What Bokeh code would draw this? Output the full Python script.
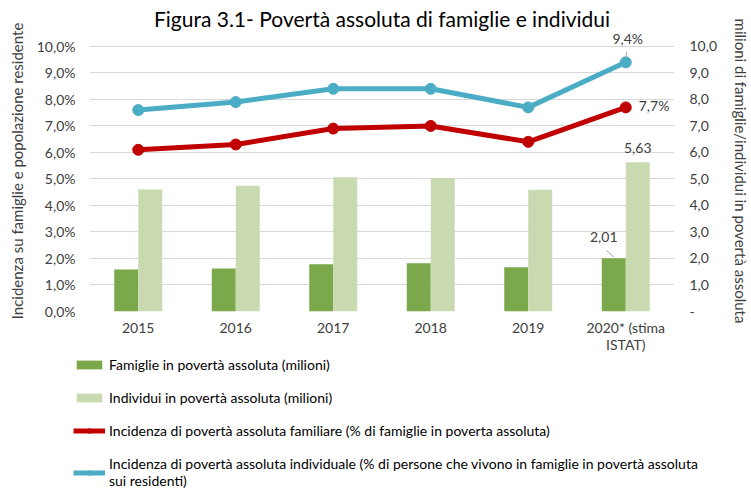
from bokeh.plotting import figure
from bokeh.layouts import column
from bokeh.models import Range1d, FactorRange, LinearAxis, FixedTicker, Legend, LegendItem, Label, ColumnDataSource
from bokeh.transform import dodge
from bokeh.embed import file_html
from bokeh.resources import INLINE

years = ["2015", "2016", "2017", "2018", "2019", "2020* (stima\nISTAT)"]
famiglie_mil = [1.58, 1.62, 1.78, 1.82, 1.67, 2.01]
individui_mil = [4.60, 4.74, 5.06, 5.04, 4.59, 5.63]
inc_famiglie = [6.1, 6.3, 6.9, 7.0, 6.4, 7.7]
inc_individui = [7.6, 7.9, 8.4, 8.4, 7.7, 9.4]
pct_ticks = [0, 1, 2, 3, 4, 5, 6, 7, 8, 9, 10]
pct_labels = ["0,0%", "1,0%", "2,0%", "3,0%", "4,0%", "5,0%", "6,0%", "7,0%", "8,0%", "9,0%", "10,0%"]
mil_labels = ["-", "1,0", "2,0", "3,0", "4,0", "5,0", "6,0", "7,0", "8,0", "9,0", "10,0"]
legend_labels = [
    "Famiglie in povertà assoluta (milioni)",
    "Individui in povertà assoluta (milioni)",
    "Incidenza di povertà assoluta familiare (% di famiglie in poverta assoluta)",
    "Incidenza di povertà assoluta individuale (% di persone che vivono in famiglie in povertà assoluta\nsui residenti)",
]

FONT = "Lato"
TXT = "#404040"
DARK = "#7aa84a"
LIGHT = "#c9dab0"
RED = "#c00000"
BLUE = "#4bacc6"
LEADER = "#a6a6a6"

src = ColumnDataSource(dict(x=years, fam=famiglie_mil, ind=individui_mil,
                            incf=inc_famiglie, inci=inc_individui))

TOP = 10.6
p = figure(x_range=FactorRange(factors=years), y_range=Range1d(0, TOP),
           frame_width=585, frame_height=281,
           output_backend="svg", toolbar_location=None,
           min_border_left=89, min_border_right=69, min_border_top=30, min_border_bottom=38)
p.extra_y_ranges = {"mil": Range1d(0, TOP)}

p.title.text = "Figura 3.1- Povertà assoluta di famiglie e individui"
p.title.align = "center"
p.title.text_font = FONT
p.title.text_font_size = "21px"
p.title.text_font_style = "normal"
p.title.text_color = "#000000"
p.title.standoff = 0
p.outline_line_color = None

p.xgrid.grid_line_color = None
p.ygrid.grid_line_color = "#d9d9d9"
p.ygrid.ticker = FixedTicker(ticks=pct_ticks)

yl = p.yaxis[0]
yl.ticker = FixedTicker(ticks=pct_ticks)
yl.major_label_overrides = {t: l for t, l in zip(pct_ticks, pct_labels)}
yl.axis_label = "Incidenza su famiglie e popolazione residente"

yr = LinearAxis(y_range_name="mil", ticker=FixedTicker(ticks=pct_ticks),
                axis_label="milioni di famiglie/individui in povertà assoluta")
yr.major_label_overrides = {t: l for t, l in zip(pct_ticks, mil_labels)}
try:
    yr.axis_label_orientation = "vertical"
except Exception:
    pass
p.add_layout(yr, "right")

for ax in [yl, yr, p.xaxis[0]]:
    ax.axis_line_color = None
    ax.major_tick_line_color = None
    ax.minor_tick_line_color = None
    ax.major_label_text_font = FONT
    ax.major_label_text_font_size = "14px"
    ax.major_label_text_color = TXT
    ax.axis_label_text_font = FONT
    ax.axis_label_text_font_size = "15px"
    ax.axis_label_text_font_style = "normal"
    ax.axis_label_text_color = TXT
yl.major_label_standoff = 8
yl.axis_label_standoff = 8
yr.major_label_standoff = 9
yr.axis_label_standoff = 12
p.xaxis[0].major_label_standoff = 1
p.xaxis[0].major_label_text_line_height = 1.0

b1 = p.vbar(x=dodge("x", -0.123, range=p.x_range), top="fam", width=0.246, source=src,
            y_range_name="mil", fill_color=DARK, line_color=None)
b2 = p.vbar(x=dodge("x", 0.123, range=p.x_range), top="ind", width=0.246, source=src,
            y_range_name="mil", fill_color=LIGHT, line_color=None)
l1 = p.line("x", "incf", source=src, line_color=RED, line_width=5)
s1 = p.scatter("x", "incf", source=src, size=11, fill_color=RED, line_color=RED)
l2 = p.line("x", "inci", source=src, line_color=BLUE, line_width=5)
s2 = p.scatter("x", "inci", source=src, size=11, fill_color=BLUE, line_color=BLUE)

def fmt(v, d, pct):
    s = f"{v:.{d}f}".replace(".", ",")
    return s + ("%" if pct else "")

# data labels for the last category (synthetic coordinate of its centre)
xl = len(years) - 0.5
lab_style = dict(text_font=FONT, text_font_size="14px", text_color=TXT)
p.add_layout(Label(x=xl, y=inc_individui[-1], text=fmt(inc_individui[-1], 1, True),
                   x_offset=2, y_offset=15, text_align="center", **lab_style))
p.add_layout(Label(x=xl, y=inc_famiglie[-1], text=fmt(inc_famiglie[-1], 1, True),
                   x_offset=13, y_offset=-7, text_align="left", **lab_style))
p.add_layout(Label(x=xl + 0.123, y=individui_mil[-1], y_range_name="mil", text=fmt(individui_mil[-1], 2, False),
                   y_offset=9, text_align="center", **lab_style))
p.add_layout(Label(x=xl - 0.123, y=famiglie_mil[-1], y_range_name="mil", text=fmt(famiglie_mil[-1], 2, False),
                   x_offset=-10, y_offset=16, text_align="center", **lab_style))
# leader lines
p.segment(x0=[xl], y0=[inc_individui[-1] + 0.17], x1=[xl + 0.01], y1=[inc_individui[-1] + 0.4],
          line_color=LEADER, line_width=1)
p.segment(x0=[xl - 0.2], y0=[famiglie_mil[-1] + 0.3], x1=[xl - 0.12], y1=[famiglie_mil[-1] + 0.04],
          y_range_name="mil", line_color=LEADER, line_width=1)

# legend panel: a second figure whose renderers draw the same data outside its view
q = figure(x_range=FactorRange(factors=years), y_range=Range1d(100, 101),
           width=743, height=134, output_backend="svg", toolbar_location=None,
           x_axis_type=None, y_axis_type=None,
           min_border_left=0, min_border_right=0, min_border_top=0, min_border_bottom=0)
q.outline_line_color = None
q.xgrid.grid_line_color = None
q.ygrid.grid_line_color = None
for fig in (p, q):
    try:
        fig.frame_align = False
    except Exception:
        pass
r1 = q.vbar(x="x", top="fam", width=0.246, source=src, fill_color=DARK, line_color=None)
r2 = q.vbar(x="x", top="ind", width=0.246, source=src, fill_color=LIGHT, line_color=None)
r3 = q.line("x", "incf", source=src, line_color=RED, line_width=5)
r4 = q.scatter("x", "incf", source=src, size=11, fill_color=RED, line_color=RED)
r5 = q.line("x", "inci", source=src, line_color=BLUE, line_width=5)
r6 = q.scatter("x", "inci", source=src, size=11, fill_color=BLUE, line_color=BLUE)

legend = Legend(items=[
    LegendItem(label=legend_labels[0], renderers=[r1]),
    LegendItem(label=legend_labels[1], renderers=[r2]),
    LegendItem(label=legend_labels[2], renderers=[r3, r4]),
    LegendItem(label=legend_labels[3], renderers=[r5, r6]),
], location=(73, 0))
legend.label_text_font = FONT
legend.label_text_font_size = "14px"
legend.label_text_color = "#000000"
legend.label_text_line_height = 1.15
legend.glyph_width = 32
legend.glyph_height = 11
legend.label_height = 17
legend.spacing = 16
legend.padding = 0
legend.margin = 0
legend.label_standoff = 4
legend.border_line_color = None
legend.background_fill_alpha = 0
q.add_layout(legend, "center")

open("out.html", "w").write(file_html(column(p, q, spacing=0), INLINE))
